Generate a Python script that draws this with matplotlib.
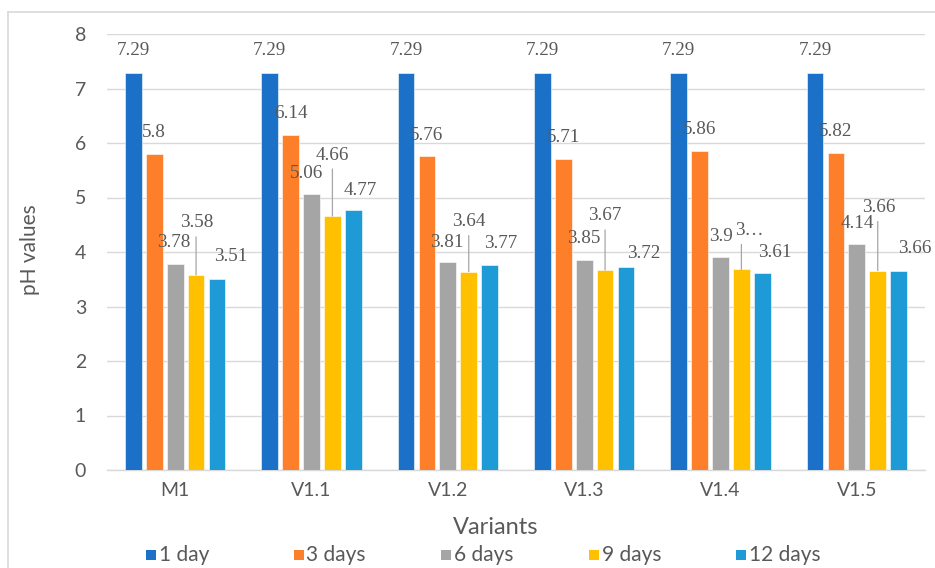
import matplotlib
matplotlib.use("Agg")
import matplotlib.pyplot as plt
from matplotlib.patches import Rectangle
from matplotlib.lines import Line2D
import numpy as np

# ---- data ----
variants = ["M1", "V1.1", "V1.2", "V1.3", "V1.4", "V1.5"]
series_names = ["1 day", "3 days", "6 days", "9 days", "12 days"]
ph_1day = [7.29, 7.29, 7.29, 7.29, 7.29, 7.29]
ph_3days = [5.80, 6.14, 5.76, 5.71, 5.86, 5.82]
ph_6days = [3.78, 5.06, 3.81, 3.85, 3.90, 4.14]
ph_9days = [3.58, 4.66, 3.64, 3.67, 3.68, 3.66]
ph_12days = [3.51, 4.77, 3.77, 3.72, 3.61, 3.66]
y_ticks = [0, 1, 2, 3, 4, 5, 6, 7, 8]

series = [ph_1day, ph_3days, ph_6days, ph_9days, ph_12days]
colors = ["#1B71C8", "#FE7F2A", "#A5A5A5", "#FFC000", "#1E9BD7"]

# label placement (pixel offsets from the top of each bar), leaders, truncation
label_dx = [
    [0, 0, 0, 0, 0, 0],
    [0, 0, 0, 0, 0, 0],
    [-1, -5, -1, 0, 0, 0],
    [1, 0, 0, 0, 8, 1],
    [14, 7, 11, 18, 13, 16],
]
label_dy = [
    [22, 22, 22, 22, 22, 22],
    [21, 22, 21, 21, 21, 21],
    [21, 21, 20, 22, 21, 21],
    [52, 61, 50, 54, 39, 63],
    [22, 20, 21, 14, 21, 22],
]
leader = [
    [False] * 6,
    [False] * 6,
    [False] * 6,
    [True] * 6,
    [False] * 6,
]
truncated = [
    [False] * 6,
    [False] * 6,
    [False] * 6,
    [False, False, False, False, True, False],
    [False] * 6,
]

W, H, DPI = 935, 568, 100
fig = plt.figure(figsize=(W / DPI, H / DPI), dpi=DPI)
fig.patch.set_facecolor("white")

ax_l, ax_r, ax_t, ax_b = 107, 925, 34, 470
ax = fig.add_axes([ax_l / W, 1 - ax_b / H, (ax_r - ax_l) / W, (ax_b - ax_t) / H])

text_gray = "#595959"
grid_gray = "#D9D9D9"
sans = ["Lato", "DejaVu Sans"]
serif = ["Liberation Serif", "DejaVu Serif"]

x = np.arange(len(variants))
pitch = 0.1533
width = 0.1225
n = len(series)

for i, (vals, col) in enumerate(zip(series, colors)):
    xs = x + (i - (n - 1) / 2) * pitch
    ax.bar(xs, vals, width=width, color=col, edgecolor="white", linewidth=0.4, zorder=3)
    for j, (xx, v) in enumerate(zip(xs, vals)):
        txt = f"{v:g}"
        if truncated[i][j]:
            txt = txt[0] + "\u2026"
        dx, dy = label_dx[i][j], label_dy[i][j]
        ax.annotate(txt, xy=(xx, v), xytext=(dx, dy), textcoords="offset pixels",
                    ha="center", va="center", fontsize=13.8, color=text_gray,
                    family=serif, zorder=5)
        if leader[i][j]:
            ax.annotate("", xy=(xx, v), xytext=(0, dy - 14), textcoords="offset pixels",
                        arrowprops=dict(arrowstyle="-", color="#A6A6A6", lw=0.9,
                                        shrinkA=0, shrinkB=0), zorder=4)

ax.set_xlim(-0.5, len(variants) - 0.5)
ax.set_ylim(0, 8)
ax.set_yticks(y_ticks)
ax.set_xticks(x)
ax.set_xticklabels(variants)
ax.yaxis.grid(True, color=grid_gray, linewidth=1.0, zorder=0)
ax.set_axisbelow(True)
for s in ["top", "right", "left"]:
    ax.spines[s].set_visible(False)
ax.spines["bottom"].set_color(grid_gray)
ax.spines["bottom"].set_linewidth(1.0)
ax.tick_params(axis="both", length=0, colors=text_gray, labelsize=14)
ax.tick_params(axis="y", pad=15)
ax.tick_params(axis="x", pad=9)
for lab in ax.get_xticklabels() + ax.get_yticklabels():
    lab.set_family(sans)

# axis titles
fig.text(496 / W, 1 - 528 / H, "Variants", ha="center", va="center",
         fontsize=17, color=text_gray, family=sans)
fig.text(30 / W, 1 - 250 / H, "pH values", ha="center", va="center",
         rotation=90, fontsize=15, color=text_gray, family=sans)

# legend
leg_y = 555
for i, (name, col) in enumerate(zip(series_names, colors)):
    x0 = 146 + i * 147.5
    fig.add_artist(Rectangle((x0 / W, 1 - (leg_y + 5) / H), 10 / W, 10 / H,
                             transform=fig.transFigure, facecolor=col, edgecolor="none"))
    fig.text((x0 + 13) / W, 1 - leg_y / H, name, ha="left", va="center",
             fontsize=15, color=text_gray, family=sans)

# outer frame
fig.add_artist(Line2D([8 / W, 8 / W], [0, 1 - 12 / H], transform=fig.transFigure,
                      color=grid_gray, lw=1.2))
fig.add_artist(Line2D([8 / W, 1], [1 - 12 / H, 1 - 12 / H], transform=fig.transFigure,
                      color=grid_gray, lw=1.2))

fig.savefig("out.png", dpi=DPI)
